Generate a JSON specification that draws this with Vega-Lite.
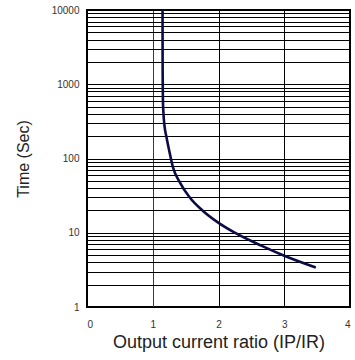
{
  "$schema": "https://vega.github.io/schema/vega-lite/v6.json",
  "autosize": "none",
  "width": 263,
  "height": 297,
  "padding": {"left": 87, "top": 10, "right": 5, "bottom": 53},
  "background": "white",
  "config": {
    "font": "Liberation Sans",
    "view": {"stroke": "#000", "strokeWidth": 2}
  },
  "data": {
    "values": [
      {"ratio": 1.149, "time": 10000},
      {"ratio": 1.150, "time": 2000},
      {"ratio": 1.152, "time": 1000},
      {"ratio": 1.155, "time": 600},
      {"ratio": 1.162, "time": 420},
      {"ratio": 1.178, "time": 280},
      {"ratio": 1.21, "time": 192},
      {"ratio": 1.25, "time": 128},
      {"ratio": 1.308, "time": 76},
      {"ratio": 1.41, "time": 48},
      {"ratio": 1.56, "time": 30},
      {"ratio": 1.76, "time": 19.8},
      {"ratio": 1.99, "time": 13.8},
      {"ratio": 2.24, "time": 10.1},
      {"ratio": 2.65, "time": 6.7},
      {"ratio": 3.00, "time": 4.9},
      {"ratio": 3.48, "time": 3.4}
    ]
  },
  "mark": {"type": "line", "color": "#0b0b45", "strokeWidth": 2.6, "interpolate": "monotone"},
  "encoding": {
    "x": {
      "field": "ratio",
      "type": "quantitative",
      "scale": {"domain": [0, 4], "nice": false, "zero": false},
      "axis": {
        "title": "Output current ratio (IP/IR)",
        "values": [0, 1, 2, 3, 4],
        "format": "d",
        "domain": false,
        "ticks": false,
        "grid": true,
        "gridColor": {"condition": {"test": "datum.value == 1", "value": "#3a3a3a"}, "value": "#000"},
        "gridWidth": 1,
        "labelFontSize": 10,
        "labelColor": "#333",
        "labelPadding": 12,
        "titleFontSize": 18,
        "titleFontWeight": "normal",
        "titleColor": "#222",
        "titlePadding": 4
      }
    },
    "y": {
      "field": "time",
      "type": "quantitative",
      "scale": {"type": "log", "domain": [1, 10000], "nice": false},
      "axis": {
        "title": "Time (Sec)",
        "values": [1, 2, 3, 4, 5, 6, 7, 8, 9,
                   10, 20, 30, 40, 50, 60, 70, 80, 90,
                   100, 200, 300, 400, 500, 600, 700, 800, 900,
                   1000, 2000, 3000, 4000, 5000, 6000, 7000, 8000, 9000, 10000],
        "format": "d",
        "labelExpr": "indexof(['1', '10', '100', '1000', '10000'], datum.label) >= 0 ? datum.label : ''",
        "labelOverlap": false,
        "domain": false,
        "ticks": false,
        "grid": true,
        "gridColor": "#000",
        "gridWidth": 1,
        "labelFontSize": 10,
        "labelColor": "#333",
        "labelPadding": 8,
        "titleFontSize": 16,
        "titleFontWeight": "normal",
        "titleColor": "#222",
        "titlePadding": 20
      }
    }
  }
}
